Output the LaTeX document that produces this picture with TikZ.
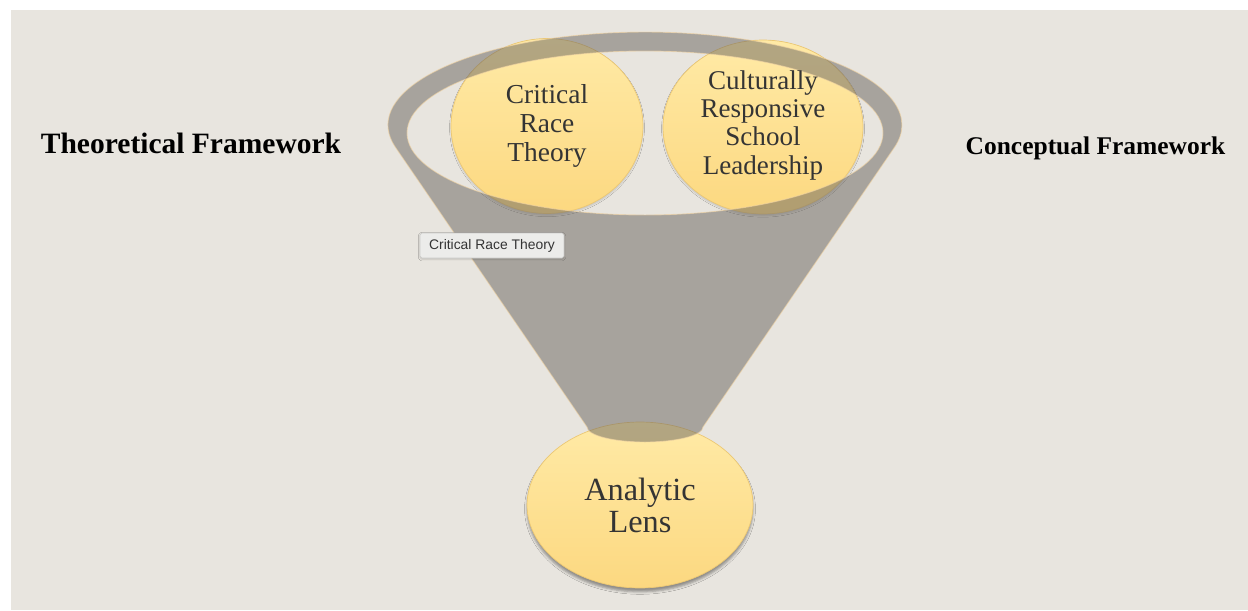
\documentclass[tikz,border=0pt]{standalone}
\usepackage{fontspec}
\setmainfont{Liberation Serif}
\newfontfamily\uifont{Liberation Sans}
\usetikzlibrary{shapes.geometric,shadows.blur}

\definecolor{paper}{RGB}{232,229,223}
\definecolor{lensTop}{RGB}{255,234,166}
\definecolor{lensBottom}{RGB}{252,216,128}
\definecolor{lensEdge}{RGB}{236,200,116}
\definecolor{funnelGray}{RGB}{109,104,98}
\definecolor{funnelEdge}{RGB}{244,214,164}
\definecolor{inkGray}{RGB}{52,52,52}
\definecolor{tipFill}{RGB}{236,236,234}
\definecolor{tipEdge}{RGB}{204,204,202}

\begin{document}
\begin{tikzpicture}[x=0.02cm,y=0.02cm,
  lens/.style={ellipse, inner sep=0pt, top color=lensTop, bottom color=lensBottom,
    draw=lensEdge, line width=0.4pt},
  softshadow/.style={blur shadow={shadow xshift=0pt, shadow yshift=-1pt,
    shadow blur radius=0.8pt, shadow opacity=15}},
  lenstext/.style={align=center, text=inkGray, inner sep=0pt,
    font=\fontsize{15.6}{16.4}\selectfont},
  headlabel/.style={anchor=base, text=black, inner sep=0pt},
  tipbox/.style={draw=tipEdge, fill=tipFill, line width=0.4pt, rounded corners=1pt,
    minimum width=2.88cm, minimum height=0.5cm, inner sep=0pt, text=inkGray,
    font=\uifont\fontsize{7.9}{9}\selectfont},
]
% page and backdrop
\useasboundingbox (0,0) rectangle (1248,610);
\fill[white] (0,0) rectangle (1248,610);
\fill[paper] (11,0) rectangle (1248,600);

% the three lenses
\node[lens, softshadow, minimum width=3.84cm, minimum height=3.5cm] (crt) at (547,484) {};
\node[lens, softshadow, minimum width=4.0cm, minimum height=3.48cm] (crsl) at (763,483) {};
\node[lens, blur shadow={shadow xshift=0pt, shadow yshift=-2.2pt,
    shadow blur radius=1.4pt, shadow opacity=38},
  minimum width=4.52cm, minimum height=3.32cm] (al) at (640,105) {};

% translucent funnel: rim ring plus tapering body
\fill[funnelGray, fill opacity=0.52, even odd rule,
      draw=funnelEdge, draw opacity=0.6, line width=0.5pt]
  (395.5,462.6) arc[start angle=193.91, end angle=-13.91, x radius=257, y radius=93]
  -- (703,183) arc[start angle=0, end angle=-180, x radius=58, y radius=15]
  -- cycle
  (645,477) ellipse [x radius=238, y radius=82];

% lens captions
\node[lenstext] (crtText) at (crt) {Critical\\Race\\Theory};
\node[lenstext, font=\fontsize{15.4}{16.1}\selectfont] (crslText) at ([yshift=1pt]crsl)
  {Culturally\\Responsive\\School\\Leadership};
\node[lenstext, font=\fontsize{18.4}{18.2}\selectfont] (alText) at (al)
  {Analytic\\Lens};

% side headings
\node[headlabel, font=\bfseries\fontsize{16.8}{20}\selectfont] (theo) at (191,457)
  {Theoretical Framework};
\node[headlabel, font=\bfseries\fontsize{14.5}{17}\selectfont] (conc) at (1095.5,456)
  {Conceptual Framework};

% hover tip
\node[tipbox, blur shadow={shadow xshift=0pt, shadow yshift=-0.6pt,
    shadow blur radius=1pt, shadow opacity=18}] (tip) at (492,364.5)
  {Critical Race Theory};
\end{tikzpicture}
\end{document}
